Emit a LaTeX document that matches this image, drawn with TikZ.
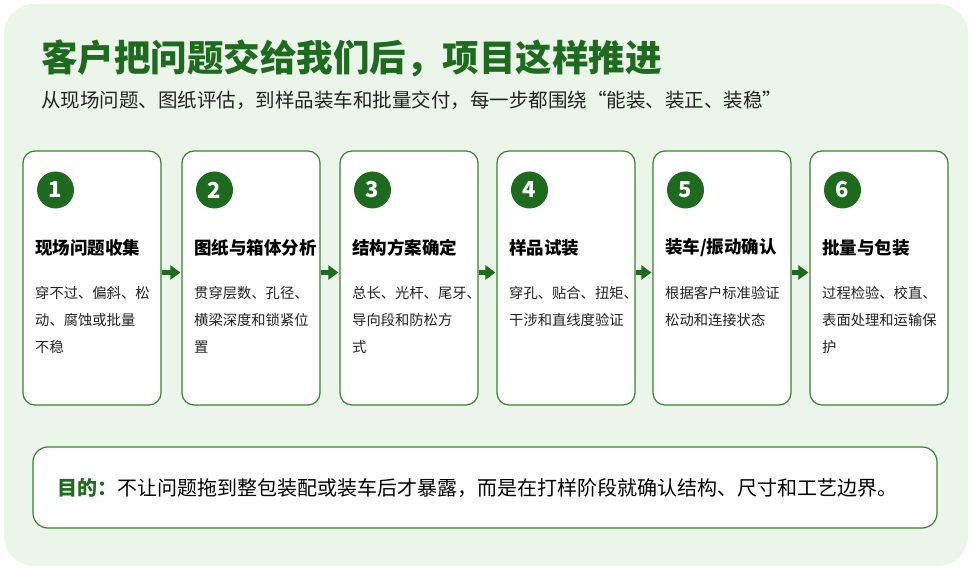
\documentclass[tikz,border=0pt]{standalone}
\usepackage{fontspec}
\setmainfont{Noto Sans CJK SC}
\usepackage{tikz}
\usetikzlibrary{arrows.meta}
\definecolor{panelgreen}{HTML}{EBF5E9}
\definecolor{darkgreen}{HTML}{1E6B20}
\definecolor{edgegreen}{HTML}{3C7F36}
\definecolor{bodygray}{HTML}{222222}
\tikzset{
	card/.style={draw=edgegreen, line width=1.2pt, fill=white, rounded corners=12pt, minimum width=138pt, minimum height=254pt, inner sep=0pt},
	numdot/.style={circle, fill=darkgreen, minimum size=37pt, inner sep=0pt, text=white, font=\fontsize{22}{22}\selectfont\bfseries},
	cardtitle/.style={anchor=west, inner sep=0pt, font=\fontsize{17.5}{20}\selectfont\bfseries, text=black},
	cardbody/.style={anchor=north west, inner sep=0pt, align=left, font=\fontsize{14.3}{27}\selectfont, text=bodygray},
	flowarrow/.style={draw=darkgreen, line width=4.5pt, -{Triangle[length=10pt,width=14pt]}, shorten <=0.5pt, shorten >=1pt},
}
\begin{document}
\begin{tikzpicture}[x=1pt,y=-1pt]
			%%%%% START %%%%%
			\useasboundingbox (0,0) rectangle (972,572);
			\fill[white] (0,0) rectangle (972,572);
			\fill[panelgreen, rounded corners=30pt] (4,4) rectangle (968,566);
			
			\node[anchor=west, inner sep=0pt, text=darkgreen, font=\fontsize{36.5}{40}\selectfont\bfseries] (headline) at (41,58) {客户把问题交给我们后，项目这样推进};
			\node[anchor=west, inner sep=0pt, text=bodygray, font=\fontsize{19.5}{22}\selectfont] (subline) at (41,100) {从现场问题、图纸评估，到样品装车和批量交付，每一步都围绕“能装、装正、装稳”};
			
			\node[card] (card1) at (92,278) {};
			\node[numdot] (num1) at (55.5,190) {1};
			\node[cardtitle] (title1) at (35,248) {现场问题收集};
			\node[cardbody] (body1) at (35,286) {穿不过、偏斜、松\\动、腐蚀或批量\\不稳};
			
			\node[card] (card2) at (251,278) {};
			\node[numdot] (num2) at (214.5,190) {2};
			\node[cardtitle] (title2) at (194,248) {图纸与箱体分析};
			\node[cardbody] (body2) at (194,286) {贯穿层数、孔径、\\横梁深度和锁紧位\\置};
			
			\node[card] (card3) at (409,278) {};
			\node[numdot] (num3) at (372.5,190) {3};
			\node[cardtitle] (title3) at (352,248) {结构方案确定};
			\node[cardbody] (body3) at (352,286) {总长、光杆、尾牙、\\导向段和防松方\\式};
			
			\node[card] (card4) at (566,278) {};
			\node[numdot] (num4) at (529.5,190) {4};
			\node[cardtitle] (title4) at (509,248) {样品试装};
			\node[cardbody] (body4) at (509,286) {穿孔、贴合、扭矩、\\干涉和直线度验证};
			
			\node[card] (card5) at (722,278) {};
			\node[numdot] (num5) at (685.5,190) {5};
			\node[cardtitle] (title5) at (665,248) {装车/振动确认};
			\node[cardbody] (body5) at (665,286) {根据客户标准验证\\松动和连接状态};
			
			\node[card] (card6) at (879,278) {};
			\node[numdot] (num6) at (842.5,190) {6};
			\node[cardtitle] (title6) at (822,248) {批量与包装};
			\node[cardbody] (body6) at (822,286) {过程检验、校直、\\表面处理和运输保\\护};
			
			\draw[flowarrow] ([yshift=5.5pt]card1.east) -- ([yshift=5.5pt]card2.west);
			\draw[flowarrow] ([yshift=5.5pt]card2.east) -- ([yshift=5.5pt]card3.west);
			\draw[flowarrow] ([yshift=5.5pt]card3.east) -- ([yshift=5.5pt]card4.west);
			\draw[flowarrow] ([yshift=5.5pt]card4.east) -- ([yshift=5.5pt]card5.west);
			\draw[flowarrow] ([yshift=5.5pt]card5.east) -- ([yshift=5.5pt]card6.west);
			
			\node[draw=edgegreen, line width=1.2pt, fill=white, rounded corners=15pt, minimum width=904pt, minimum height=81pt] (goalbox) at (485,487.5) {};
			\node[anchor=west, inner sep=0pt, font=\fontsize{20}{24}\selectfont] (goaltext) at (57,488) {{\bfseries\color{darkgreen}目的：}不让问题拖到整包装配或装车后才暴露，而是在打样阶段就确认结构、尺寸和工艺边界。};
			%%%%% END %%%%%
\end{tikzpicture}
\end{document}
